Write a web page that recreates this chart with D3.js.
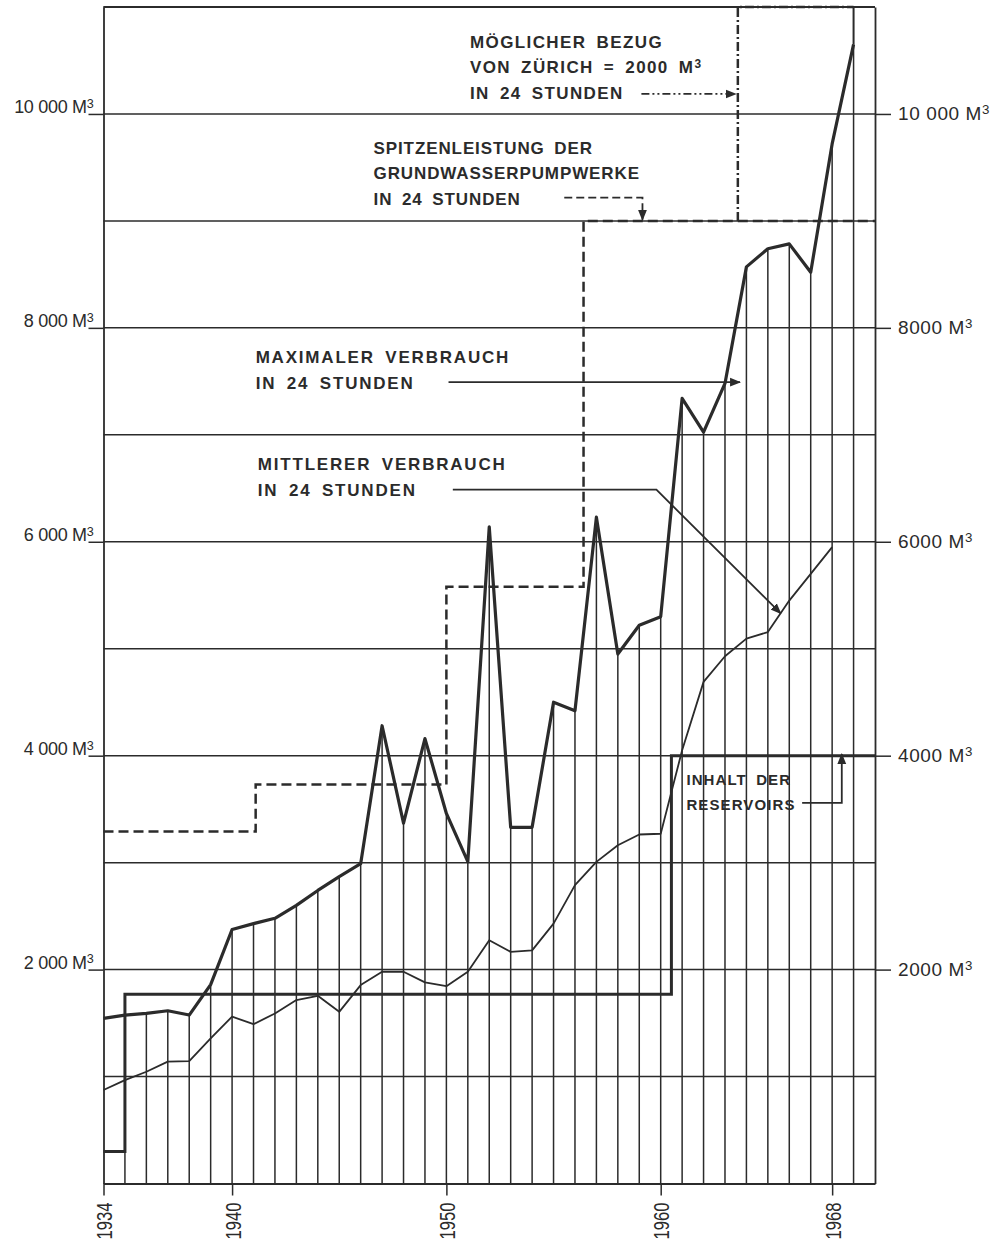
<!DOCTYPE html>
<html>
<head>
<meta charset="utf-8">
<script src="https://cdn.jsdelivr.net/npm/d3@7/dist/d3.min.js"></script>
<style>
  body { margin: 0; background: #fff; }
  svg text { font-family: "Liberation Sans", Arial, sans-serif; fill: #2b2b2b; }
</style>
</head>
<body>
<script>
// years 1934 - 1969
var years = [1934, 1935, 1936, 1937, 1938, 1939, 1940, 1941, 1942, 1943, 1944, 1945, 1946, 1947,
    1948, 1949, 1950, 1951, 1952, 1953, 1954, 1955, 1956, 1957, 1958, 1959, 1960, 1961, 1962, 1963,
    1964, 1965, 1966, 1967, 1968, 1969]
// maximaler Verbrauch in 24 Stunden (m3)
var maxDaily = [1544, 1575, 1590, 1615, 1575, 1860, 2375, 2430, 2480, 2600, 2740, 2870, 2990, 4280,
    3370, 4160, 3460, 3010, 6140, 3330, 3330, 4500, 4420, 6230, 4950, 5220, 5300, 7340, 7025, 7480,
    8570, 8740, 8785, 8520, 9720, 10650]
// mittlerer Verbrauch in 24 Stunden (m3), 1934 - 1968
var meanDaily = [874, 967, 1045, 1140, 1145, 1357, 1560, 1490, 1590, 1715, 1755, 1605, 1855, 1980,
    1980, 1880, 1845, 1980, 2275, 2166, 2180, 2430, 2790, 3007, 3163, 3263, 3270, 4050, 4690, 4930,
    5094, 5156, 5450, 5700, 5950]

// Spitzenleistung der Grundwasserpumpwerke (steps)
var pumpYears = [1934, 1941.1, 1950, 1956.4, 1970]
var pumpValues = [3290, 3730, 5580, 9000, 9000]
// Inhalt der Reservoirs (steps)
var reservoirYears = [1934, 1935, 1960.5, 1970]
var reservoirValues = [300, 1770, 4000, 4000]
// möglicher Bezug von Zürich = 2000 m3
var zurichYears = [1963.6, 1963.6, 1969]
var zurichValues = [9000, 11000, 11000]

var gridValues = [1000, 2000, 3000, 4000, 5000, 6000, 7000, 8000, 9000, 10000, 11000]
var labelTicks = [2000, 4000, 6000, 8000, 10000]
var leftLabels = ["2 000 M³", "4 000 M³", "6 000 M³", "8 000 M³", "10 000 M³"]
var rightLabels = ["2000 M³", "4000 M³", "6000 M³", "8000 M³", "10 000 M³"]
var yearTicks = [1934, 1940, 1950, 1960, 1968]

const width = 1000
const height = 1243
const ink = "#2b2b2b"

var svg = d3.select("body").append("svg").attr("width", width).attr("height", height)

var x = d3.scaleLinear().domain([1934, 1970]).range([103.5, 875])
var y = d3.scaleLinear().domain([0, 11000]).range([1183.5, 7])

// arrow head
svg.append("defs").append("marker")
    .attr("id", "arrow").attr("viewBox", "0 0 10 10").attr("refX", 9).attr("refY", 5)
    .attr("markerWidth", 11).attr("markerHeight", 11).attr("markerUnits", "userSpaceOnUse")
    .attr("orient", "auto")
    .append("path").attr("d", "M0,1 L10,5 L0,9 Z").attr("fill", ink)

// M³ with a bigger superscript 3
function supText(sel) {
    sel.each(function() {
        var t = d3.select(this)
        var parts = t.text().split("³")
        t.text(parts[0])
        if (parts.length > 1) {
            t.append("tspan").attr("dy", "-0.45em").style("font-size", "0.7em").text("3")
        }
    })
}

// horizontal grid
svg.append("g").selectAll("line").data(gridValues).enter().append("line")
    .attr("x1", x(1934)).attr("x2", x(1970))
    .attr("y1", d => y(d)).attr("y2", d => y(d))
    .attr("stroke", ink).attr("stroke-width", 1.5)

// vertical hatching up to the max curve
svg.append("g").selectAll("line").data(years.slice(1)).enter().append("line")
    .attr("x1", d => x(d)).attr("x2", d => x(d))
    .attr("y1", y(0)).attr("y2", (d, i) => y(maxDaily[i + 1]))
    .attr("stroke", ink).attr("stroke-width", 1.5)

// left axis
var leftAxis = svg.append("g").attr("transform", "translate(" + x(1934) + ",0)")
    .call(d3.axisLeft(y).tickValues(labelTicks).tickSize(15).tickSizeOuter(0)
        .tickFormat((d, i) => leftLabels[i]))
leftAxis.select(".domain").attr("stroke", ink).attr("stroke-width", 1.8)
leftAxis.selectAll(".tick line").attr("stroke", ink).attr("stroke-width", 1.5)
leftAxis.selectAll(".tick text").attr("x", -10).attr("dy", "-1").attr("fill", ink)
    .style("font-size", "18px").style("letter-spacing", "-0.3px").call(supText)

// right axis
var rightAxis = svg.append("g").attr("transform", "translate(" + x(1970) + ",0)")
    .call(d3.axisRight(y).tickValues(labelTicks).tickSize(16).tickPadding(7).tickSizeOuter(0)
        .tickFormat((d, i) => rightLabels[i]))
rightAxis.select(".domain").attr("stroke", ink).attr("stroke-width", 1.8)
rightAxis.selectAll(".tick text").attr("fill", ink).attr("dy", "0.3em")
    .style("font-size", "19px").style("letter-spacing", "0.6px").call(supText)
rightAxis.selectAll(".tick line").attr("stroke", ink).attr("stroke-width", 1.5)

// bottom axis
var bottomAxis = svg.append("g").attr("transform", "translate(0," + y(0) + ")")
    .call(d3.axisBottom(x).tickValues(yearTicks).tickSize(12).tickSizeOuter(0).tickFormat(d3.format("d")))
bottomAxis.select(".domain").attr("stroke", ink).attr("stroke-width", 1.8)
bottomAxis.selectAll(".tick line").attr("stroke", ink).attr("stroke-width", 1.5)
bottomAxis.selectAll(".tick text")
    .attr("transform", "rotate(-90)").attr("x", -19).attr("y", 0).attr("dy", "0.36em")
    .attr("text-anchor", "end").attr("fill", ink)
    .attr("textLength", 37).attr("lengthAdjust", "spacingAndGlyphs")
    .style("font-size", "22px")

// top border
svg.append("line").attr("x1", x(1934)).attr("x2", x(1970)).attr("y1", y(11000)).attr("y2", y(11000))
    .attr("stroke", ink).attr("stroke-width", 1.8)

var stepLine = d3.line().x(d => x(d[0])).y(d => y(d[1])).curve(d3.curveStepAfter)
var line = d3.line().x(d => x(d[0])).y(d => y(d[1]))

// pumpwerke (dashed)
svg.append("path").datum(pumpYears.map((d, i) => [d, pumpValues[i]]))
    .attr("d", stepLine).attr("fill", "none").attr("stroke", ink)
    .attr("stroke-width", 2.5).attr("stroke-dasharray", "10,5")

// Zürich (dash-dot)
svg.append("path").datum(zurichYears.map((d, i) => [d, zurichValues[i]]))
    .attr("d", line).attr("fill", "none").attr("stroke", ink)
    .attr("stroke-width", 2.5).attr("stroke-dasharray", "9,3,2,3")
svg.append("line").attr("x1", x(1969)).attr("x2", x(1969))
    .attr("y1", y(11000)).attr("y2", y(maxDaily[maxDaily.length - 1]))
    .attr("stroke", ink).attr("stroke-width", 2)

// reservoirs (thick solid steps)
svg.append("path").datum(reservoirYears.map((d, i) => [d, reservoirValues[i]]))
    .attr("d", stepLine).attr("fill", "none").attr("stroke", ink).attr("stroke-width", 3)

// mean curve
svg.append("path").datum(meanDaily.map((d, i) => [years[i], d]))
    .attr("d", line).attr("fill", "none").attr("stroke", ink).attr("stroke-width", 1.8)
    .attr("stroke-linejoin", "round")

// max curve
svg.append("path").datum(maxDaily.map((d, i) => [years[i], d]))
    .attr("d", line).attr("fill", "none").attr("stroke", ink).attr("stroke-width", 3.2)
    .attr("stroke-linejoin", "round")

// annotations
function label(lines, yr, val, size, spacing, lead) {
    var t = svg.append("text")
        .style("font-size", size + "px").style("font-weight", "bold")
        .style("letter-spacing", spacing + "px").style("word-spacing", "4px")
    lines.forEach((s, i) => {
        t.append("tspan").attr("x", x(yr)).attr("y", y(val) + i * lead).text(s)
    })
    t.selectAll("tspan").call(supText)
}
function arrow(pts, dash) {
    svg.append("path").datum(pts).attr("d", line).attr("fill", "none")
        .attr("stroke", ink).attr("stroke-width", 1.8)
        .attr("stroke-dasharray", dash || null)
        .attr("marker-end", "url(#arrow)")
}

label(["MÖGLICHER BEZUG", "VON ZÜRICH = 2000 M³", "IN 24 STUNDEN"], 1951.1, 10620, 17, 1.4, 25.5)
arrow([[1959.1, 10187], [1963.5, 10187]], "8,3,2,3,2,3")

label(["SPITZENLEISTUNG DER", "GRUNDWASSERPUMPWERKE", "IN 24 STUNDEN"], 1946.6, 9630, 17, 0.9, 25.5)
arrow([[1955.5, 9218], [1959.15, 9218], [1959.15, 9010]], "8,4")

label(["MAXIMALER VERBRAUCH", "IN 24 STUNDEN"], 1941.1, 7667, 17, 1.8, 26)
arrow([[1950.1, 7492], [1963.7, 7492]])

label(["MITTLERER VERBRAUCH", "IN 24 STUNDEN"], 1941.2, 6667, 17, 1.8, 26)
arrow([[1950.3, 6487], [1959.8, 6487], [1965.6, 5330]])

label(["INHALT DER", "RESERVOIRS"], 1961.2, 3724, 15, 1.1, 25)
arrow([[1966.6, 3558], [1968.45, 3558], [1968.45, 4015]])
</script>
</body>
</html>
